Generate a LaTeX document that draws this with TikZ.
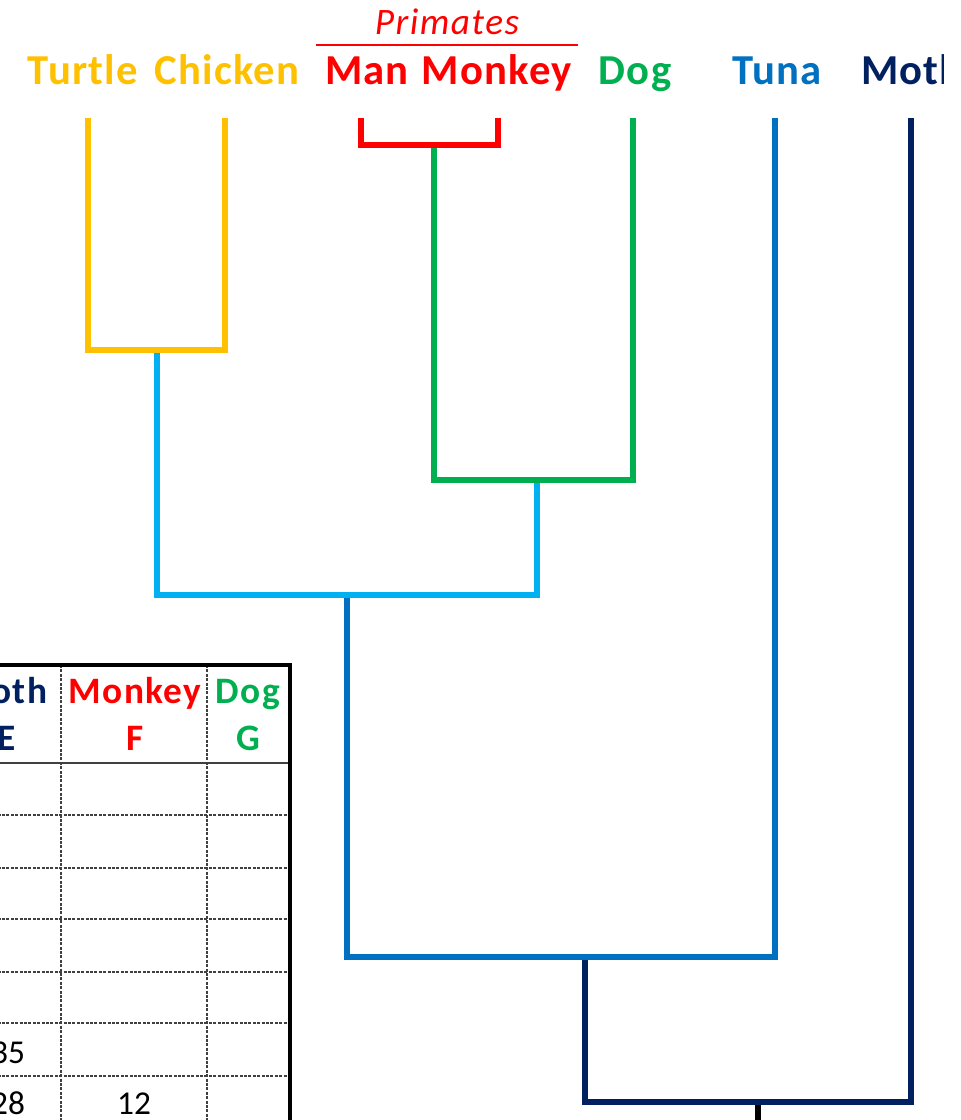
\documentclass[tikz,border=0pt]{standalone}
\usepackage{fontspec}
\setmainfont{Carlito}
\definecolor{cgold}{HTML}{FFC000}
\definecolor{cred}{HTML}{FF0000}
\definecolor{cgreen}{HTML}{00B050}
\definecolor{clblue}{HTML}{00B0F0}
\definecolor{cblue}{HTML}{0070C0}
\definecolor{cnavy}{HTML}{002060}
\definecolor{cgrid}{HTML}{404040}
\begin{document}
\begin{tikzpicture}[x=0.75pt,y=-0.75pt,
  lbl/.style={font=\fontsize{32}{32}\selectfont\bfseries\addfontfeatures{LetterSpace=3}, anchor=base, inner sep=0pt},
  hdr/.style={font=\fontsize{28}{28}\selectfont\bfseries\addfontfeatures{LetterSpace=4}, anchor=base, inner sep=0pt},
  num/.style={font=\fontsize{25}{25}\selectfont, anchor=base, inner sep=0pt, text=black},
  branch/.style={line width=5.1pt, line join=miter},
  tborder/.style={line width=3.2pt, black},
  tgrid/.style={line width=1.1pt, cgrid, dash pattern=on 2.2pt off 1.1pt},
  tsolid/.style={line width=1.1pt, cgrid}]
\useasboundingbox (0,0) rectangle (960,1120);
\clip (0,0) rectangle (943,1120);

% ---------- table ----------
\coordinate (tl) at (-20,665);
\coordinate (tr) at (290,665);
\coordinate (br) at (290,1140);
\foreach \y/\n in {815/r1,868/r2,919/r3,972/r4,1023/r5,1076/r6}{
  \coordinate (\n a) at (-20,\y);
  \coordinate (\n b) at (290,\y);
  \draw[tgrid] (\n a) -- (\n b);
}
\coordinate (hla) at (-20,763);
\coordinate (hlb) at (290,763);
\draw[tsolid] (hla) -- (hlb);
\coordinate (c1t) at (61,665);
\coordinate (c1b) at (61,1140);
\coordinate (c2t) at (207,665);
\coordinate (c2b) at (207,1140);
\draw[tgrid] (c1t) -- (c1b);
\draw[tgrid] (c2t) -- (c2b);
\draw[tborder, line join=miter] (tl) -- (tr) -- (br);

\node[hdr, text=cnavy] (hmoth) at (2,703) {Moth};
\node[hdr, text=cnavy] (hE) at (7,750) {E};
\node[hdr, text=cred] (hmonkey) at (135,703) {Monkey};
\node[hdr, text=cred] (hF) at (135,750) {F};
\node[hdr, text=cgreen] (hdog) at (248,703) {Dog};
\node[hdr, text=cgreen] (hG) at (248,750) {G};
\node[num] (n35) at (8,1063) {35};
\node[num] (n28) at (8,1114) {28};
\node[num] (n12) at (134,1114) {12};

% ---------- labels ----------
\node[lbl, text=cgold] (turtle) at (83,85) {Turtle};
\node[lbl, text=cgold] (chicken) at (227,85) {Chicken};
\node[lbl, text=cred] (man) at (367,85) {Man};
\node[lbl, text=cred] (monkey) at (497,85) {Monkey};
\node[lbl, text=cgreen] (dog) at (635,85) {Dog};
\node[lbl, text=cblue] (tuna) at (777,85) {Tuna};
\node[lbl, text=cnavy] (moth) at (912,85) {Moth};
\node[font=\fontsize{28}{28}\selectfont\itshape\addfontfeatures{LetterSpace=4}, text=cred, anchor=base, inner sep=0pt] (primates) at (447,35) {Primates};
\coordinate (pl) at (316,45);
\coordinate (pr) at (578,45);
\draw[cred, line width=2.2pt] (pl) -- (pr);

% ---------- tree coordinates ----------
\coordinate (tT) at (88,118);
\coordinate (tC) at (225,118);
\coordinate (tMan) at (361,118);
\coordinate (tMonk) at (498,118);
\coordinate (tDog) at (633,118);
\coordinate (tTuna) at (775,118);
\coordinate (tMoth) at (911,118);
\coordinate (jTC) at (157,350);
\coordinate (jMM) at (434,145);
\coordinate (jPD) at (537,480);
\coordinate (jA) at (347,595);
\coordinate (jB) at (585,957);
\coordinate (root) at (758,1102);
\coordinate (stub) at (758,1130);

% ---------- tree (drawn from root upward) ----------
\draw[line width=5pt, black] (root) -- (stub);
\draw[branch, cnavy] (jB) |- (root) -| (tMoth);
\draw[branch, cblue] (jA) |- (jB) -| (tTuna);
\draw[branch, clblue] (jTC) |- (jA) -| (jPD);
\draw[branch, cgreen] (jMM) |- (jPD) -| (tDog);
\draw[branch, cgold] (tT) |- (jTC) -| (tC);
\draw[branch, cred] (tMan) |- (jMM) -| (tMonk);
\end{tikzpicture}
\end{document}
